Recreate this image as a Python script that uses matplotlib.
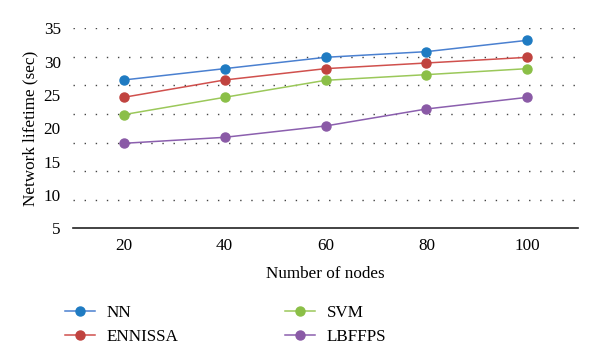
import numpy as np
import matplotlib.pyplot as plt

plt.rcParams['font.family'] = ['Liberation Serif', 'DejaVu Serif']

nodes = [20, 40, 60, 80, 100]
nn = [27.25, 28.95, 30.65, 31.5, 33.2]
ennissa = [24.65, 27.25, 28.95, 29.8, 30.65]
svm = [22.05, 24.65, 27.2, 28.05, 28.95]
lbffps = [17.75, 18.65, 20.35, 22.9, 24.65]
y_ticks = [5, 10, 15, 20, 25, 30, 35]

fig = plt.figure(figsize=(6, 3.63), dpi=100)
ax = fig.add_axes([0.122, 0.371, 0.841, 0.551])

# dotted guide lines (7 bands, not aligned with tick labels in the original)
for g in np.linspace(5, 35, 8)[1:]:
    ax.axhline(g, color='#444444', lw=1.0, ls=(0, (1, 7)), zorder=0)

series = [
    ('NN', nn, '#4a80d0', '#1f7bc2'),
    ('ENNISSA', ennissa, '#d0504d', '#c0433f'),
    ('SVM', svm, '#9bc85a', '#8bbf47'),
    ('LBFFPS', lbffps, '#8b5fae', '#8a5aa6'),
]
for name, vals, lc, mc in series:
    ax.plot(nodes, vals, color=lc, lw=1.1, marker='o', markersize=6.5,
            markerfacecolor=mc, markeredgecolor=mc, label=name)

fs = 12.3
ax.set_xlim(10, 110)
ax.set_ylim(5, 35)
ax.set_xticks(nodes)
ax.set_yticks(y_ticks)
ax.tick_params(axis='both', length=0, labelsize=fs)
ax.tick_params(axis='y', pad=9)
ax.tick_params(axis='x', pad=7)
for s in ['top', 'right', 'left']:
    ax.spines[s].set_visible(False)
ax.spines['bottom'].set_linewidth(1.2)
ax.spines['bottom'].set_color('#222222')

ax.set_xlabel('Number of nodes', fontsize=fs, labelpad=8.5)
ax.set_ylabel('Network lifetime (sec)', fontsize=fs, labelpad=4)

fig.legend(loc='upper left', bbox_to_anchor=(0.083, 0.203), bbox_transform=fig.transFigure,
           ncol=2, frameon=False, fontsize=fs, handlelength=1.75,
           columnspacing=6.2, labelspacing=0.47, handletextpad=0.7)

fig.savefig('out.png', dpi=100)
